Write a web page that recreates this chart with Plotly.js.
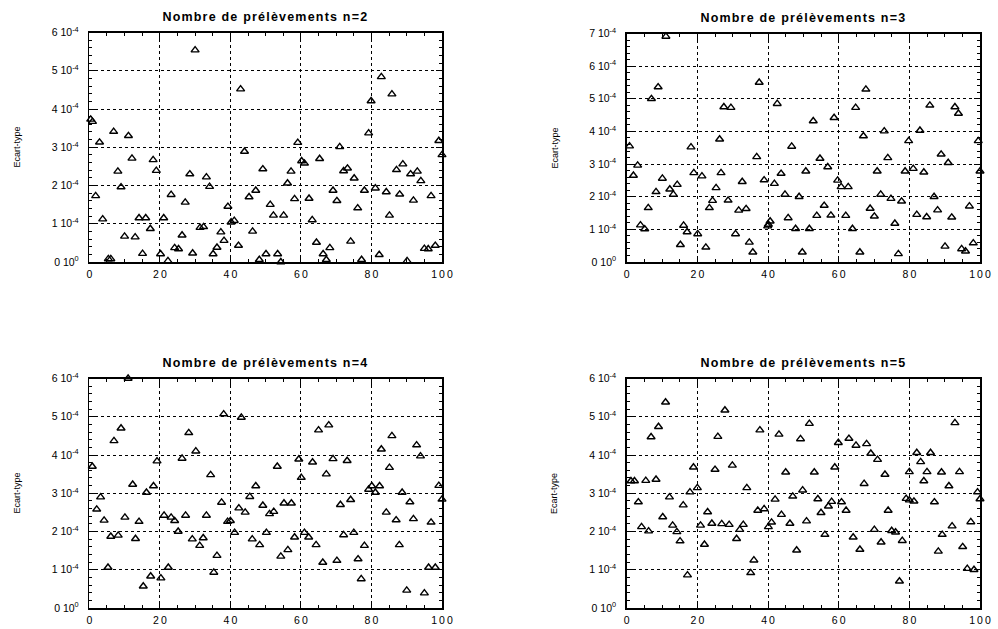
<!DOCTYPE html>
<html><head><meta charset="utf-8">
<script src="https://cdn.plot.ly/plotly-3.0.1.min.js"></script>
<style>html,body{margin:0;padding:0;background:#fff}#chart{width:998px;height:629px}
#chart .annotation-text.ttl{letter-spacing:1.2px}
</style>
</head><body><div id="chart"></div>
<script>
// values in units of 1e-4
const SCALE = 1e-4;
const n2_x = [30,0.4,0.9,6.9,11.1,2.9,12.1,18.1,8.1,19.0,28.5,33.2,9.0,34.1,1.8,23.2,27.2,3.8,14.1,16.0,21.1,17.3,31.4,32.4,10.0,13.0,26.3,24.2,25.3,15.1,20.2,29.3,5.4,6.1,22.3,
 42.9,44.0,49.2,57.2,59.1,60.2,61.0,56.2,47.2,45.3,58.2,62.3,65.3,71.0,72.1,73.2,75.1,69.1,70.2,76.1,39.3,51.3,52.2,55.1,40.2,41.1,63.2,37.3,46.3,38.2,36.2,35.1,42.3,64.4,74.1,68.2,66.3,67.2,50.1,53.4,48.2,54.3,
 82.8,85.8,79.9,79.2,99.1,100,87.1,88.9,91.1,93.0,94.0,78.0,81.1,84.2,88.0,91.9,96.9,85.1,82.2,77.2,90.1,95.0,96.1,98.1];
const n2_y = [5.54,3.73,3.67,3.41,3.30,3.13,2.71,2.67,2.37,2.39,2.30,2.22,1.96,1.97,1.73,1.76,1.56,1.12,1.15,1.15,1.15,0.87,0.90,0.92,0.67,0.65,0.70,0.37,0.34,0.22,0.21,0.23,0.08,0.08,0.03,
 4.52,2.89,2.43,2.37,3.12,2.64,2.58,2.06,1.87,1.70,1.65,1.66,2.70,3.01,2.38,2.45,2.19,1.87,1.60,1.41,1.45,1.50,1.22,1.22,1.04,1.08,1.10,0.78,0.80,0.56,0.38,0.21,0.43,0.51,0.54,0.37,0.21,0.06,0.21,0.21,0.06,0.0,
 4.84,4.39,4.21,3.37,3.17,2.80,2.41,2.56,2.30,2.37,2.12,1.87,1.93,1.83,1.77,1.61,1.73,1.22,0.19,0.06,0.03,0.35,0.34,0.43];

const n3_x = [11.1,8.9,7.0,0.8,18.2,26.3,3.1,1.9,19.0,21.3,10.1,14.3,12.2,13.2,8.3,25.3,24.3,23.4,6.1,3.9,5.1,16.1,17.1,20.1,15.2,22.4,
 37.5,27.5,29.5,42.6,52.8,58.7,46.7,36.8,54.7,56.9,26.7,32.7,38.9,41.8,43.7,50.7,59.7,60.7,62.7,44.8,48.8,28.7,31.7,33.8,55.9,53.8,57.8,62.0,45.7,40.6,40.1,39.9,47.8,51.7,30.8,34.7,35.7,49.7,
 67.7,64.8,85.8,92.9,93.9,67.0,72.9,83.0,79.8,99.5,73.9,89.0,91.0,70.9,78.8,81.1,84.1,100,71.9,74.8,77.8,87.0,68.9,70.1,82.1,84.9,88.0,92.0,97.0,63.9,75.9,66.0,76.9,90.1,94.8,95.9,98.1];
const n3_y = [6.91,5.36,5.00,3.55,3.52,3.76,2.96,2.65,2.73,2.63,2.56,2.37,2.23,2.07,2.15,2.27,1.88,1.66,1.66,1.13,1.01,1.12,0.92,0.86,0.53,0.45,
 5.50,4.75,4.73,4.85,4.32,4.42,3.54,3.22,3.17,2.91,2.73,2.46,2.51,2.40,2.71,2.78,2.50,2.30,2.30,2.07,2.00,1.89,1.58,1.63,1.73,1.42,1.43,1.42,1.35,1.25,1.15,1.10,1.02,1.02,0.86,0.60,0.30,0.30,
 5.29,4.73,4.80,4.75,4.55,3.86,4.01,4.03,3.71,3.71,3.19,3.30,3.04,2.78,2.78,2.86,2.75,2.78,2.07,1.94,1.86,2.00,1.64,1.40,1.45,1.38,1.59,1.37,1.71,1.02,1.18,0.30,0.25,0.48,0.40,0.33,0.58];

const n4_x = [11.0,9.0,7.0,28.2,30.2,26.3,19.2,0.85,12.3,18.2,16.2,3.2,2.1,4.2,10.1,14.1,21.2,23.2,24.2,27.3,6.1,8.2,13.1,25.2,29.2,31.3,5.3,22.4,17.4,20.3,15.3,
 38.1,43.1,65.0,67.9,59.4,63.3,69.1,73.1,53.3,34.4,67.2,60.1,47.2,45.5,37.5,49.2,55.2,57.3,74.1,71.2,33.2,42.4,44.2,51.1,52.3,39.2,40.0,32.3,41.2,50.2,46.2,48.3,58.2,61.0,62.2,64.3,72.1,75.0,56.3,54.3,36.2,66.2,70.2,76.2,35.3,
 85.8,92.8,82.8,93.9,85.1,79.2,80.1,81.1,82.3,99.1,100,88.7,90.9,84.2,87.0,91.9,96.9,78.0,87.9,96.2,98.1,77.1,90.0,95.0];
const n4_y = [6.0,4.70,4.37,4.58,4.10,3.91,3.84,3.70,3.23,3.19,3.02,2.90,2.58,2.29,2.37,2.26,2.42,2.37,2.28,2.42,1.87,1.90,1.81,2.0,1.80,1.63,1.06,1.06,0.83,0.78,0.57,
 5.07,4.98,4.65,4.78,3.89,3.81,3.90,3.85,3.70,3.48,3.50,3.41,3.19,2.91,2.76,2.68,2.74,2.74,2.83,2.70,2.42,2.61,2.50,2.46,2.52,2.26,2.28,1.83,1.97,1.97,1.80,1.65,1.85,1.97,1.85,1.65,1.91,1.97,1.52,1.35,1.37,1.19,1.24,1.28,0.93,
 4.50,4.26,4.15,3.97,3.67,3.10,3.19,3.02,3.19,3.20,2.84,3.02,2.77,2.50,2.30,2.33,2.24,1.63,1.65,1.06,1.06,0.76,0.46,0.39];

const n5_x = [11.0,9.0,6.9,18.9,1.2,2.2,5.4,8.3,20.0,17.9,12.1,3.3,16.0,10.2,4.2,13.0,20.9,6.2,14.2,15.1,22.0,17.2,
 27.8,51.7,25.8,37.7,43.1,49.2,59.9,62.9,25.0,29.9,45.0,53.1,58.9,34.0,49.8,47.0,42.0,54.1,58.0,57.1,60.8,62.1,55.0,37.1,38.9,22.9,43.8,24.1,26.9,29.0,33.0,32.0,41.0,40.1,46.2,50.9,56.1,31.1,48.1,36.0,35.1,
 92.9,64.9,67.9,69.1,71.0,82.1,86.0,83.2,80.0,85.0,89.1,94.2,73.1,84.1,67.2,91.2,79.1,80.0,81.3,87.1,99.3,100,74.0,97.4,92.1,70.1,75.0,76.1,78.0,64.1,72.0,89.3,66.0,88.2,95.1,96.4,98.3,77.2];
const n5_y = [5.38,4.74,4.47,3.68,3.32,3.32,3.33,3.36,3.14,3.03,2.90,2.77,2.69,2.38,2.12,2.16,2.16,2.01,1.99,1.75,1.66,0.86,
 5.17,4.82,4.48,4.65,4.54,4.42,4.32,4.43,3.62,3.73,3.55,3.55,3.68,3.14,3.08,2.92,2.84,2.85,2.78,2.66,2.77,2.55,2.49,2.55,2.59,2.51,2.44,2.21,2.20,2.18,2.18,2.05,2.24,2.12,2.21,2.27,1.92,1.81,1.51,1.25,0.92,
 4.84,4.25,4.29,4.04,3.88,4.06,4.06,3.82,3.56,3.56,3.55,3.56,3.49,3.32,3.25,3.19,2.86,2.82,2.79,2.77,3.03,2.85,2.55,2.25,2.14,2.05,2.02,1.98,1.76,1.85,1.72,1.92,1.53,1.48,1.60,1.03,1.00,0.70];

const titles = ['Nombre de prélèvements n=2','Nombre de prélèvements n=3','Nombre de prélèvements n=4','Nombre de prélèvements n=5'];
const yMax = [6, 7, 6, 6];
const xTickVals = [0,20,40,60,80,100];
const xTickText = ['0','2\u20090','4\u20090','6\u20090','8\u20090','1\u20090\u20090'];
const yAxisTitle = 'Ecart-type';

const W = 998, H = 629;
const boxes = [ // pixel boxes [left, right, top, bottom]
  [89.3, 442, 32.5, 262],
  [626.7, 980, 33.5, 262],
  [89.3, 442, 378.5, 608],
  [626.7, 980, 378.5, 608]
];
const series = [[n2_x,n2_y],[n3_x,n3_y],[n4_x,n4_y],[n5_x,n5_y]];
const font = 'Liberation Sans, Arial, sans-serif';

const data = [], annotations = [];
const layout = {width:W, height:H, margin:{l:0,r:0,t:0,b:0}, showlegend:false,
  paper_bgcolor:'#fff', plot_bgcolor:'#fff', font:{family:font, color:'#000', size:10}};

series.forEach((s, i) => {
  const k = i === 0 ? '' : String(i+1);
  const b = boxes[i];
  data.push({type:'scatter', mode:'markers', x:s[0], y:s[1].map(v => v*SCALE),
    xaxis:'x'+k, yaxis:'y'+k, cliponaxis:false,
    marker:{symbol:'triangle-up-open', size:7, color:'#000', line:{width:1.4, color:'#000'}}});
  const yv = [], yt = [];
  for (let j = 0; j <= yMax[i]; j++) { yv.push(j*SCALE); yt.push(j === 0 ? '0 10<sup>0</sup>' : j + ' 10<sup>-4</sup>'); }
  const common = {showline:true, linecolor:'#000', linewidth:1.5, mirror:'allticks', ticks:'inside', ticklen:6,
    tickwidth:1, tickcolor:'#000', showgrid:true, gridcolor:'#000', griddash:'dot', gridwidth:1, zeroline:false,
    tickfont:{family:font, size:10.5, color:'#000'}};
  layout['xaxis'+k] = Object.assign({}, common, {domain:[b[0]/W, b[1]/W], range:[0,100], anchor:'y'+k,
    tickvals:xTickVals, ticktext:xTickText, ticklabelstandoff:2,
    minor:{dtick:5, ticklen:3, tickcolor:'#000', ticks:'inside', showgrid:false}});
  layout['yaxis'+k] = Object.assign({}, common, {domain:[1-b[3]/H, 1-b[2]/H], range:[0, yMax[i]*SCALE], anchor:'x'+k,
    tickvals:yv, ticktext:yt, ticklabelstandoff:7,
    minor:{dtick:0.2*SCALE, ticklen:3, tickcolor:'#000', ticks:'inside', showgrid:false}});
  annotations.push({text:'<b>'+titles[i]+'</b>', xref:'paper', yref:'paper', x:(b[0]+b[1])/2/W, y:1-(b[2]-16)/H,
    xanchor:'center', yanchor:'middle', showarrow:false, font:{family:font, size:12.5, color:'#000'}});
  annotations.push({text:yAxisTitle, xref:'paper', yref:'paper', x:(b[0]-72)/W, y:1-(b[2]+b[3])/2/H,
    xanchor:'center', yanchor:'middle', textangle:-90, showarrow:false, font:{family:font, size:9, color:'#000'}});
});
layout.annotations = annotations;
Plotly.newPlot('chart', data, layout, {staticPlot:true}).then(() => {
  document.querySelectorAll('#chart .annotation-text').forEach(t => {
    if (t.textContent.indexOf('Nombre') === 0) t.classList.add('ttl');
  });
});
</script></body></html>
